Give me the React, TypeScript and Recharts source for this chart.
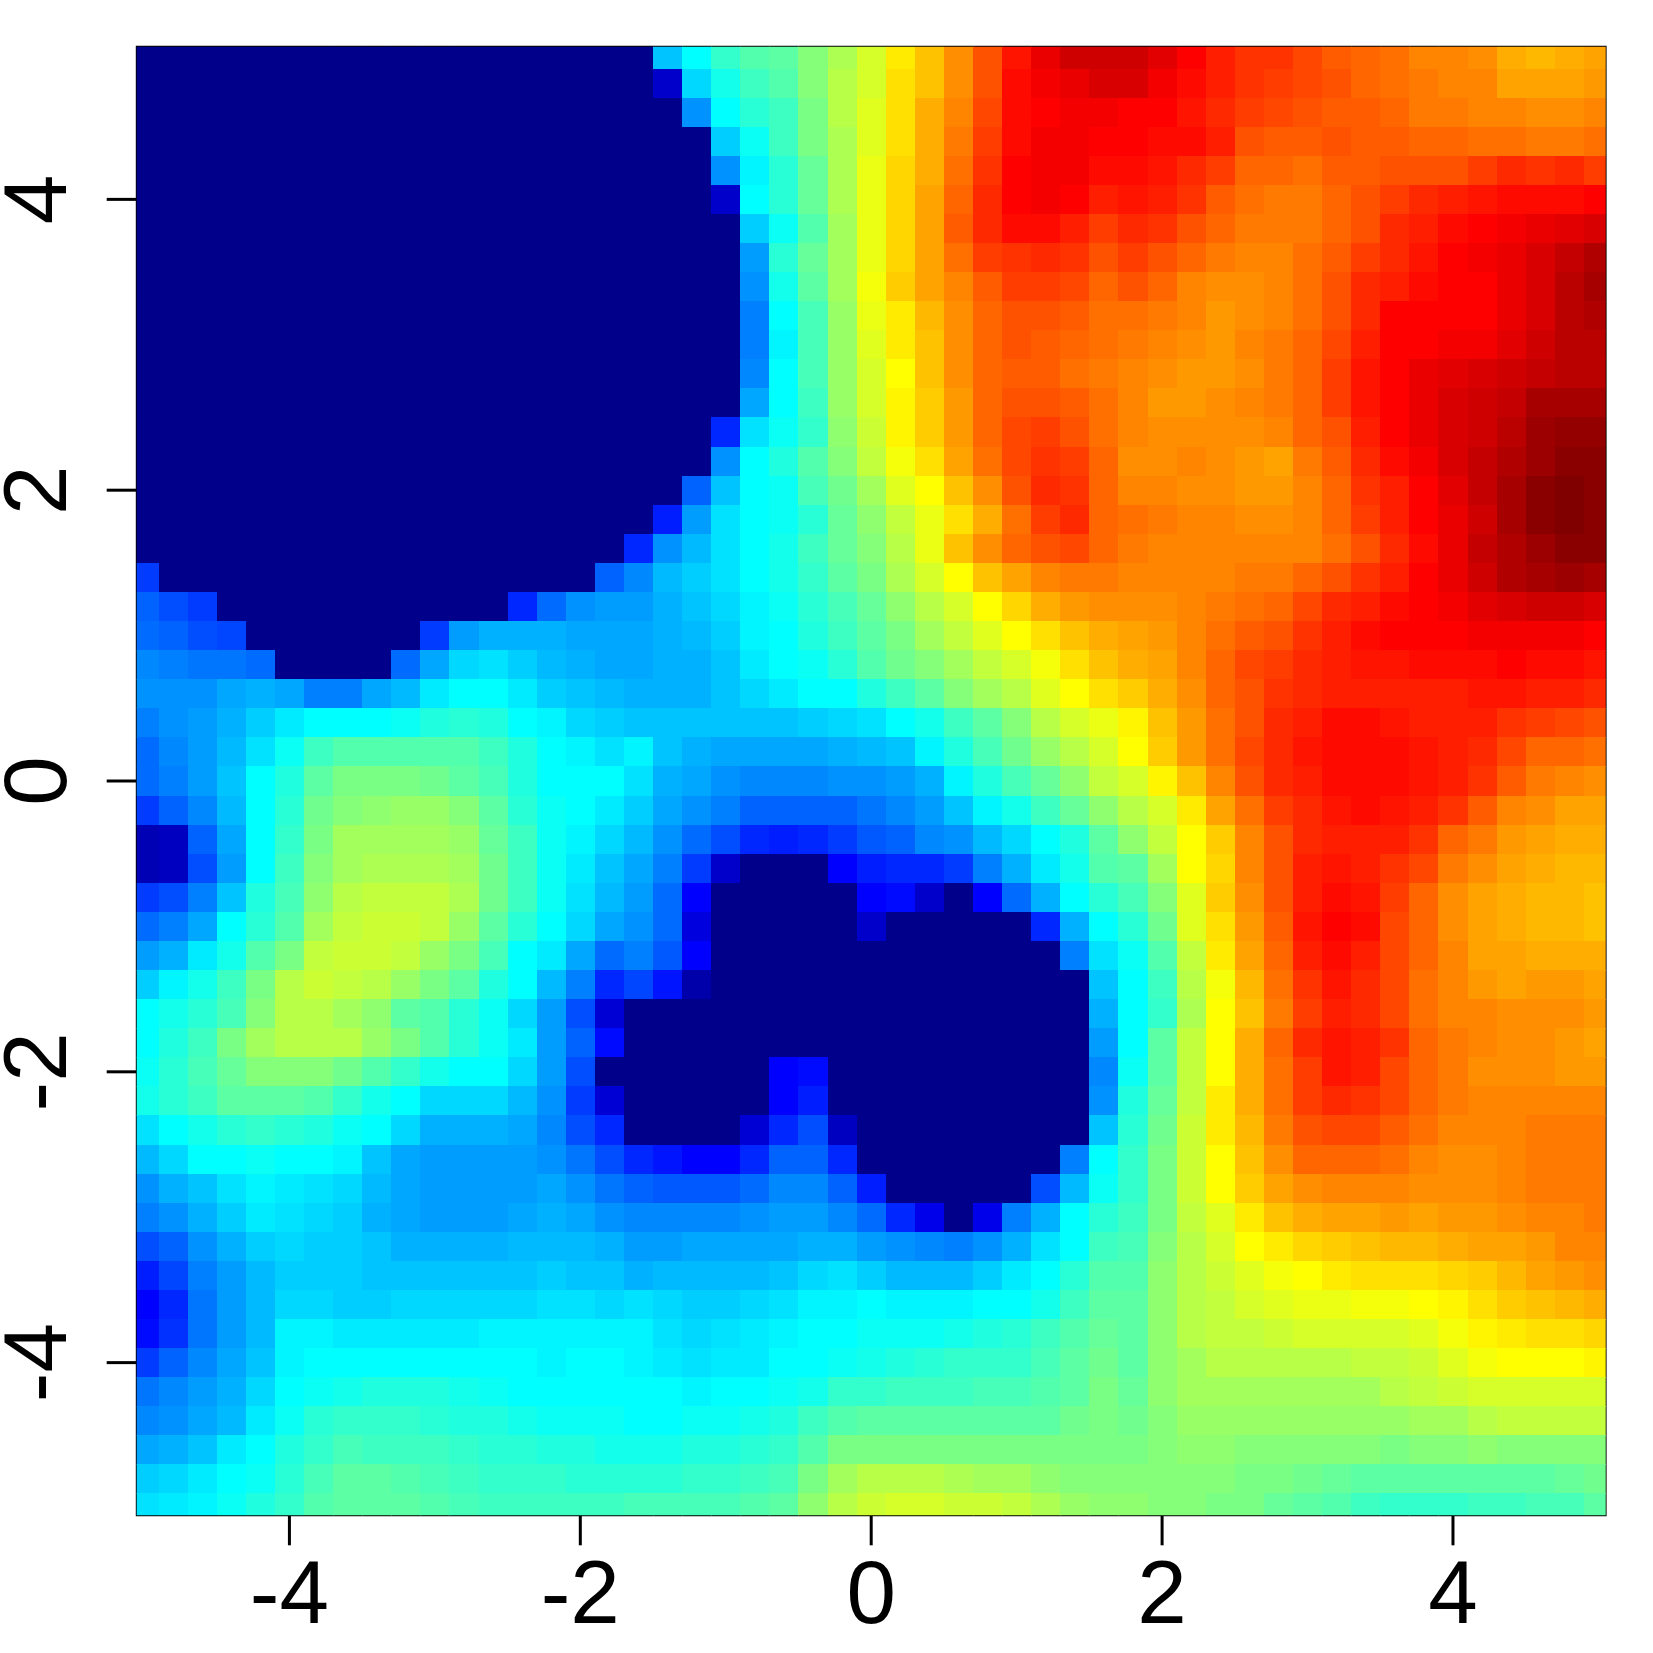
import React from 'react';
import { ScatterChart, Scatter, XAxis, YAxis, ReferenceArea } from 'recharts';

const xTicks = [-4, -2, 0, 2, 4];
const yTicks = [-4, -2, 0, 2, 4];

// grid positions of the image cells
const xGrid = [-5, -4.8, -4.6, -4.4, -4.2, -4, -3.8, -3.6, -3.4, -3.2, -3, -2.8, -2.6, -2.4, -2.2, -2, -1.8, -1.6, -1.4, -1.2, -1, -0.8, -0.6, -0.4, -0.2, 0, 0.2, 0.4, 0.6, 0.8, 1, 1.2, 1.4, 1.6, 1.8, 2, 2.2, 2.4, 2.6, 2.8, 3, 3.2, 3.4, 3.6, 3.8, 4, 4.2, 4.4, 4.6, 4.8, 5];
const yGrid = [5, 4.8, 4.6, 4.4, 4.2, 4, 3.8, 3.6, 3.4, 3.2, 3, 2.8, 2.6, 2.4, 2.2, 2, 1.8, 1.6, 1.4, 1.2, 1, 0.8, 0.6, 0.4, 0.2, 0, -0.2, -0.4, -0.6, -0.8, -1, -1.2, -1.4, -1.6, -1.8, -2, -2.2, -2.4, -2.6, -2.8, -3, -3.2, -3.4, -3.6, -3.8, -4, -4.2, -4.4, -4.6, -4.8, -5];

// surface values, 0-100 on the colour scale, top row first
const levels = [
  [0,0,0,0,0,0,0,0,0,0,0,0,0,0,0,0,0, 0,31,37,42,45,46,50,54,58,64,68,73,79,85,89,92,92, 92,90,87,84,82,82,80,78,77,76,74,74,73,70,69,70,71],
  [0,0,0,0,0,0,0,0,0,0,0,0,0,0,0,0,0, 0,6,33,39,43,45,50,55,58,65,68,73,79,86,88,89,91, 91,88,86,84,82,81,80,79,77,76,75,74,74,71,71,71,72],
  [0,0,0,0,0,0,0,0,0,0,0,0,0,0,0,0,0, 0,0,26,37,41,43,49,55,59,65,70,74,80,86,87,88,88, 87,87,85,83,81,80,79,78,78,77,75,75,74,74,73,73,74],
  [0,0,0,0,0,0,0,0,0,0,0,0,0,0,0,0,0, 0,0,0,32,38,43,49,54,59,65,70,75,81,86,88,88,87, 87,86,86,84,79,78,78,79,78,78,77,77,76,76,75,75,76],
  [0,0,0,0,0,0,0,0,0,0,0,0,0,0,0,0,0, 0,0,0,26,36,41,47,54,60,66,70,76,82,87,88,88,86, 86,85,83,81,77,77,76,78,78,79,79,79,81,83,82,83,81],
  [0,0,0,0,0,0,0,0,0,0,0,0,0,0,0,0,0, 0,0,0,6,37,41,47,54,60,66,71,77,83,87,88,87,84, 85,84,82,78,76,75,75,77,79,81,83,84,85,86,86,86,87],
  [0,0,0,0,0,0,0,0,0,0,0,0,0,0,0,0,0, 0,0,0,0,32,38,45,53,60,66,71,78,83,86,86,84,81, 83,82,79,77,75,75,75,77,79,83,84,86,87,88,89,90,91],
  [0,0,0,0,0,0,0,0,0,0,0,0,0,0,0,0,0, 0,0,0,0,27,41,47,53,60,66,71,76,81,82,83,82,79, 81,79,77,75,74,74,76,78,81,83,85,87,88,89,91,93,95],
  [0,0,0,0,0,0,0,0,0,0,0,0,0,0,0,0,0, 0,0,0,0,26,39,46,53,61,67,71,74,78,81,81,80,77, 79,77,74,73,73,74,76,79,83,84,86,87,87,89,91,94,96],
  [0,0,0,0,0,0,0,0,0,0,0,0,0,0,0,0,0, 0,0,0,0,24,37,44,52,60,64,69,73,77,79,79,78,76, 76,75,74,72,73,74,76,79,83,87,87,87,87,89,91,94,95],
  [0,0,0,0,0,0,0,0,0,0,0,0,0,0,0,0,0, 0,0,0,0,24,36,44,52,59,64,68,73,77,79,78,77,76, 75,74,73,72,74,75,77,80,84,87,87,88,88,90,92,94,94],
  [0,0,0,0,0,0,0,0,0,0,0,0,0,0,0,0,0, 0,0,0,0,25,37,44,52,58,62,68,73,77,78,78,76,75, 74,73,72,72,73,75,77,81,85,87,89,90,91,92,93,94,94],
  [0,0,0,0,0,0,0,0,0,0,0,0,0,0,0,0,0, 0,0,0,0,28,37,43,52,58,63,67,72,77,79,79,78,76, 74,72,72,73,74,75,77,81,85,87,89,91,92,93,96,96,96],
  [0,0,0,0,0,0,0,0,0,0,0,0,0,0,0,0,0, 0,0,0,15,34,38,42,51,57,63,67,72,77,80,81,79,76, 74,73,73,73,73,74,77,79,84,87,89,91,92,94,97,98,98],
  [0,0,0,0,0,0,0,0,0,0,0,0,0,0,0,0,0, 0,0,0,26,37,40,45,50,56,61,65,71,76,80,82,81,77, 73,73,74,73,72,71,75,78,83,86,88,91,93,95,97,99,99],
  [0,0,0,0,0,0,0,0,0,0,0,0,0,0,0,0,0, 0,0,21,31,37,38,44,48,53,59,62,68,73,79,83,82,77, 74,74,73,73,72,72,74,77,82,84,87,90,93,96,99,100,99],
  [0,0,0,0,0,0,0,0,0,0,0,0,0,0,0,0,0, 0,14,27,34,37,38,41,47,51,56,60,65,70,76,81,83,77, 76,75,74,74,73,73,74,77,81,84,87,89,92,96,99,100,99],
  [0,0,0,0,0,0,0,0,0,0,0,0,0,0,0,0,0, 15,26,30,34,37,39,43,47,50,55,60,68,73,77,79,80,77, 75,74,74,74,74,74,74,76,79,83,86,89,93,95,97,99,99],
  [17,0,0,0,0,0,0,0,0,0,0,0,0,0,0,0,21, 25,30,32,34,37,39,42,46,49,54,58,62,68,71,74,75,75, 74,74,74,74,75,75,77,79,82,84,87,89,92,95,96,97,96],
  [21,19,17,0,0,0,0,0,0,0,0,0,0,15,22,26,27, 27,29,31,33,36,38,41,44,47,51,55,58,62,66,70,72,73, 73,73,74,75,76,77,80,83,84,86,87,88,90,91,92,92,91],
  [22,21,19,18,0,0,0,0,0,0,17,27,29,29,29,28,28, 28,29,30,32,36,37,40,43,46,49,53,56,59,62,65,68,70, 71,72,74,76,78,79,82,84,86,87,87,87,88,88,88,88,87],
  [25,24,23,23,22,0,0,0,0,22,28,33,34,32,30,29,28, 28,29,29,31,35,37,38,41,45,48,50,53,56,58,61,65,68, 70,71,74,77,80,81,83,84,85,85,86,86,86,87,86,86,85],
  [26,26,26,28,29,28,24,24,28,30,35,37,37,35,32,31,30, 29,29,29,31,33,35,37,37,40,43,46,50,53,55,59,62,65, 67,70,73,77,79,82,83,84,84,84,84,84,85,85,84,84,83],
  [24,26,27,29,32,35,37,37,37,38,40,41,40,37,36,33,32, 31,31,31,31,31,31,32,33,34,37,39,43,46,50,55,58,60, 63,68,72,76,79,83,84,86,86,85,84,84,84,82,81,80,79],
  [22,25,27,30,34,38,43,45,45,45,45,45,43,40,37,36,34, 36,31,29,28,28,28,28,29,30,31,36,40,44,48,52,55,58, 62,67,72,76,80,83,85,86,86,86,85,84,83,80,77,77,76],
  [22,24,27,31,37,40,46,49,49,49,48,46,44,40,37,37,37, 34,29,28,26,25,25,25,26,26,27,29,36,40,44,47,51,56, 58,63,68,74,79,83,84,86,86,86,85,84,82,78,75,74,73],
  [17,21,25,30,37,41,48,50,51,52,52,50,46,41,38,37,35, 32,28,26,24,21,21,21,21,23,25,27,31,36,39,43,47,51, 55,58,64,71,76,81,83,85,86,85,84,82,78,74,73,71,71],
  [4,5,21,28,37,42,49,53,53,53,53,52,47,43,38,36,33, 30,26,22,19,15,14,15,17,20,21,25,26,30,33,37,40,46, 51,56,62,67,74,79,83,84,84,84,82,77,75,72,71,70,70],
  [4,5,19,27,37,43,50,53,54,54,54,53,48,43,38,35,31, 28,24,17,6,0,0,0,11,14,15,15,17,24,29,35,39,45, 46,53,62,66,74,79,84,85,84,82,80,75,73,71,70,69,69],
  [17,19,24,31,40,44,51,55,56,56,56,54,48,43,38,34,30, 27,22,11,0,0,0,0,0,11,12,6,0,11,22,29,37,41, 44,50,59,67,73,79,84,86,85,81,77,73,71,70,69,69,68],
  [22,24,28,37,41,45,53,56,57,57,56,52,46,41,37,33,28, 26,22,8,0,0,0,0,0,6,0,0,0,0,0,15,29,37, 41,48,59,65,72,78,85,87,86,80,77,73,71,70,69,69,68],
  [27,29,35,39,45,49,56,57,57,56,52,49,44,37,35,28,22, 24,20,11,0,0,0,0,0,0,0,0,0,0,0,0,24,34, 38,45,56,64,71,77,84,86,84,80,77,74,71,71,70,70,70],
  [32,36,39,43,49,55,57,56,55,52,49,46,40,37,30,24,15, 18,13,3,0,0,0,0,0,0,0,0,0,0,0,0,0,31, 37,43,55,61,69,76,82,85,83,80,76,74,72,71,72,72,71],
  [37,39,41,44,50,55,55,53,51,46,45,41,38,33,27,19,7, 0,0,0,0,0,0,0,0,0,0,0,0,0,0,0,0,29, 37,42,54,62,68,75,81,84,83,80,76,74,74,73,73,73,72],
  [37,40,43,49,53,55,55,55,52,49,45,41,38,35,27,21,12, 0,0,0,0,0,0,0,0,0,0,0,0,0,0,0,0,27, 37,46,56,62,70,77,83,85,84,82,77,75,74,73,73,72,71],
  [38,41,44,47,50,50,50,48,45,42,39,37,37,33,27,19,0, 0,0,0,0,0,11,12,0,0,0,0,0,0,0,0,0,25, 38,46,56,62,70,76,81,85,84,80,77,75,73,73,73,72,72],
  [39,41,43,46,46,46,45,42,39,37,33,33,33,30,26,17,7, 0,0,0,0,0,11,14,0,0,0,0,0,0,0,0,0,26, 40,47,56,64,70,76,81,83,82,80,77,75,74,74,74,74,74],
  [34,37,39,41,42,41,40,38,37,33,29,29,29,28,25,19,15, 0,0,0,0,7,15,19,5,0,0,0,0,0,0,0,0,31, 41,48,57,64,69,75,79,80,80,78,76,74,74,74,75,75,75],
  [30,33,37,37,38,37,37,36,31,28,27,27,27,27,26,23,19, 15,13,11,11,15,21,21,15,0,0,0,0,0,0,0,24,37, 42,49,57,62,68,73,77,77,77,76,74,73,73,74,75,75,75],
  [26,29,31,34,36,35,34,33,30,28,27,27,27,27,28,26,23, 21,20,20,20,22,25,25,21,14,0,0,0,0,0,19,30,38, 42,49,57,62,67,71,73,74,74,74,73,73,73,74,75,75,75],
  [24,26,29,32,35,34,33,32,29,28,27,27,27,28,29,28,26, 25,25,25,25,26,27,27,25,22,15,9,0,9,24,29,37,41, 43,49,56,59,64,68,70,71,71,72,71,72,72,73,74,74,75],
  [19,21,26,29,32,33,32,32,31,29,29,29,29,30,30,30,29, 27,27,28,28,28,28,29,29,27,26,25,24,26,29,34,37,43, 44,50,55,58,62,64,66,67,68,69,69,70,71,71,72,74,74],
  [14,18,24,27,30,32,32,32,31,31,31,31,31,31,32,31,31, 29,30,30,30,30,31,33,34,32,30,30,30,32,35,37,41,45, 45,51,55,57,59,61,62,64,65,65,65,66,67,69,71,72,73],
  [11,15,23,27,30,33,33,32,32,33,33,33,33,33,34,34,33, 34,33,32,32,33,34,36,36,37,36,36,36,37,37,39,43,46, 46,51,55,56,58,59,60,60,61,61,62,63,65,67,68,69,70],
  [12,16,23,27,30,36,36,35,35,35,35,35,36,36,36,36,36, 36,34,33,34,35,36,37,37,38,38,38,39,40,41,43,45,47, 46,51,55,56,56,57,58,58,58,58,59,61,63,64,65,65,66],
  [17,21,25,28,31,36,37,37,37,37,37,37,37,37,36,37,37, 36,35,34,35,35,37,37,38,39,40,41,42,42,42,44,46,48, 46,51,53,55,55,55,55,55,56,56,57,59,61,62,62,62,63],
  [23,25,27,29,33,37,38,39,40,40,40,39,38,37,37,37,37, 37,37,36,37,37,38,39,42,42,43,43,43,44,44,45,46,49, 47,51,53,53,53,53,53,53,53,55,56,57,58,58,58,58,58],
  [25,26,28,30,35,38,41,42,42,42,41,40,40,39,38,38,38, 37,37,38,38,39,40,43,45,46,46,46,46,46,46,46,48,49, 48,50,52,52,52,52,52,52,52,52,53,53,55,56,56,56,56],
  [28,29,31,35,37,40,42,44,43,43,43,42,41,41,40,40,39, 39,39,40,40,41,42,45,49,49,49,49,49,49,49,49,49,49, 49,50,51,51,50,50,50,50,50,49,50,50,51,50,50,50,50],
  [32,33,35,37,38,41,44,46,46,45,44,43,42,42,42,41,41, 41,41,42,42,43,44,49,53,55,55,55,54,53,53,51,50,50, 50,50,50,50,49,49,48,47,46,46,46,46,46,46,46,47,48],
  [34,35,36,38,40,42,45,46,46,46,45,44,43,43,43,43,43, 44,44,44,44,45,46,51,55,57,58,58,57,57,56,54,52,51, 51,50,50,49,49,47,46,45,43,42,42,42,43,43,44,44,46],
];

const cells = yGrid.flatMap((y, i) => xGrid.map((x, j) => ({ x, y, level: levels[i][j] })));

// jet colour stops: level, r, g, b
const jetStops = [
  [0, 0, 0, 139],
  [11, 0, 0, 255],
  [37, 0, 255, 255],
  [62, 255, 255, 0],
  [87, 255, 0, 0],
  [100, 128, 0, 0],
];

const jet = (level: number) => {
  let k = 0;
  while (k < jetStops.length - 2 && level > jetStops[k + 1][0]) k++;
  const a = jetStops[k];
  const b = jetStops[k + 1];
  const t = (level - a[0]) / (b[0] - a[0]);
  const c = [1, 2, 3].map((n) => Math.round(a[n] + (b[n] - a[n]) * t));
  return `rgb(${c[0]},${c[1]},${c[2]})`;
};

const CELL = 29.08;
const FONT = '"Liberation Sans", Arial, sans-serif';

const HeatCell = (props: any) => (
  <rect
    x={props.cx - CELL / 2}
    y={props.cy - CELL / 2}
    width={CELL + 0.5}
    height={CELL + 0.5}
    fill={jet(props.payload.level)}
    shapeRendering="crispEdges"
  />
);

const BottomTick = (props: any) => (
  <text x={props.x} y={1623} textAnchor="middle" fontSize={89} fontFamily={FONT} fill="#000">
    {props.payload.value}
  </text>
);

const LeftTick = (props: any) => (
  <text
    x={66}
    y={props.y}
    textAnchor="middle"
    fontSize={89}
    fontFamily={FONT}
    fill="#000"
    transform={`rotate(-90 66 ${props.y})`}
  >
    {props.payload.value}
  </text>
);

export default function App() {
  return (
    <div style={{ position: 'absolute', left: 0, top: 0, width: 1653, height: 1653, background: '#fff' }}>
      <ScatterChart width={1653} height={1653} margin={{ top: 46.7, right: 47.3, bottom: 0, left: 0 }}>
        <XAxis
          type="number"
          dataKey="x"
          domain={[-5.05, 5.05]}
          ticks={xTicks}
          height={137.7}
          axisLine={false}
          tickLine={{ stroke: '#000', strokeWidth: 3 }}
          tickSize={30}
          tick={<BottomTick />}
          allowDataOverflow
          interval={0}
        />
        <YAxis
          type="number"
          dataKey="y"
          domain={[-5.05, 5.05]}
          ticks={yTicks}
          width={136.7}
          axisLine={false}
          tickLine={{ stroke: '#000', strokeWidth: 3 }}
          tickSize={30}
          tick={<LeftTick />}
          allowDataOverflow
          interval={0}
        />
        <Scatter data={cells} shape={<HeatCell />} isAnimationActive={false} />
        <ReferenceArea x1={-5.05} x2={5.05} y1={-5.05} y2={5.05} fill="none" stroke="#000" strokeWidth={1.8} />
      </ScatterChart>
    </div>
  );
}
